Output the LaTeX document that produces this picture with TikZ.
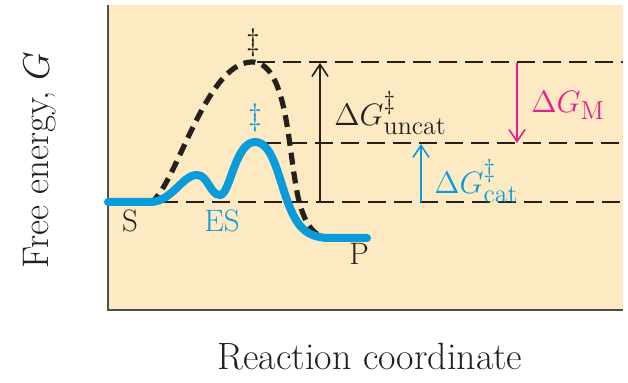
\RequirePackage{fix-cm}
\documentclass[tikz,border=0pt]{standalone}
\usepackage{tikz}
\usepackage{xcolor}
\usetikzlibrary{arrows.meta}
\definecolor{panelBeige}{RGB}{253,234,194}
\definecolor{pathBlue}{RGB}{10,155,218}
\definecolor{pathMagenta}{RGB}{232,30,138}
\definecolor{pathInk}{RGB}{38,32,28}
\newcommand\supfont{\fontsize{13}{14}\selectfont}

\begin{document}
\begin{tikzpicture}[x=0.5pt, y=-0.5pt,
      axis/.style={draw=pathInk!80, line width=1pt},
      level/.style={draw=pathInk, line width=1.2pt, dash pattern=on 9pt off 4pt},
      gap/.style={line width=0.8pt, -{Straight Barb[length=6pt,width=8pt]}},
      lbl/.style={font=\fontsize{15.5}{17}\selectfont, inner sep=0pt},
      axlabel/.style={font=\fontsize{19}{22}\selectfont, text=pathInk, inner sep=0pt}
    ]
    \useasboundingbox (0,0) rectangle (628,383);
    \fill[panelBeige] (108,5) rectangle (623,310);
    \draw[axis] (108,5) -- (108,310) -- (623,310);

    % energy levels
    \coordinate (top-a) at (257,62);  \coordinate (top-b) at (623,62);
    \coordinate (mid-a) at (263,143); \coordinate (mid-b) at (623,143);
    \coordinate (low-a) at (160,202); \coordinate (low-b) at (623,202);
    \draw[level] (top-a) -- (top-b);
    \draw[level] (mid-a) -- (mid-b);
    \draw[level] (low-a) -- (low-b);

    % uncatalyzed path
    \draw[pathInk, line width=2.6pt, dash pattern=on 6pt off 3.5pt]
      (150,203) .. controls (175,190) and (205,62) .. (252,62)
      .. controls (285,62) and (288,140) .. (295,180)
      .. controls (300,215) and (310,238) .. (330,238);
    % catalyzed path
    \draw[pathBlue, line width=4pt, line cap=round]
      (108,202) -- (150,202) .. controls (172,202) and (182,175) .. (197,175)
      .. controls (208,175) and (210,195) .. (220,195)
      .. controls (230,195) and (235,142) .. (255,142)
      .. controls (272,142) and (278,175) .. (287,200)
      .. controls (296,225) and (305,238) .. (330,238) -- (367,238);

    \node[lbl, text=pathInk] (ts-uncat) at (253,43) {$\ddagger$};
    \node[lbl, text=pathBlue] (ts-cat) at (255,118) {$\ddagger$};
    \node[lbl, text=pathInk] (sub) at (130,221) {S};
    \node[lbl, text=pathBlue] (cplx) at (222,221) {ES};
    \node[lbl, text=pathInk] (prod) at (359,254) {P};

    \coordinate (uncat-lo) at (320,202); \coordinate (uncat-hi) at (320,63);
    \coordinate (cat-lo) at (421,202);   \coordinate (cat-hi) at (421,144);
    \coordinate (m-hi) at (517,63);      \coordinate (m-lo) at (517,143);
    \draw[gap, pathInk] (uncat-lo) -- (uncat-hi);
    \draw[gap, pathBlue] (cat-lo) -- (cat-hi);
    \draw[gap, pathMagenta] (m-hi) -- (m-lo);

    \node[lbl, text=pathInk, anchor=west] (dg-uncat) at (334,113)
      {$\Delta G^{\hbox{\supfont$\ddagger$}}_{\hbox{\supfont uncat}}$};
    \node[lbl, text=pathBlue, anchor=west] (dg-cat) at (434,181)
      {$\Delta G^{\hbox{\supfont$\ddagger$}}_{\hbox{\supfont cat}}$};
    \node[lbl, text=pathMagenta, anchor=west] (dg-m) at (531,105)
      {$\Delta G_{\hbox{\supfont M}}$};

    \node[axlabel, rotate=90, font=\fontsize{18.5}{21}\selectfont] (ylab) at (40,160) {Free energy, $G$};
    \node[axlabel] (xlab) at (370,357) {Reaction coordinate};
  \end{tikzpicture}
\end{document}
